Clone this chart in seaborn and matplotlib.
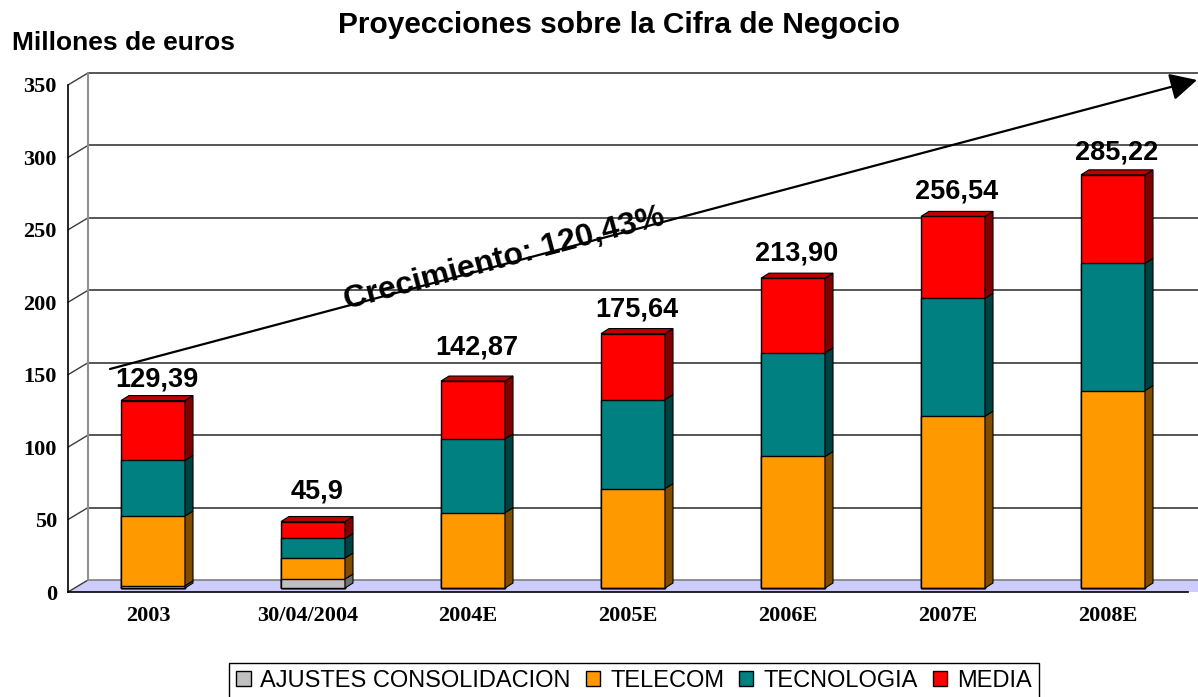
import numpy as np
import pandas as pd
import matplotlib
matplotlib.use("Agg")
import matplotlib.pyplot as plt
import seaborn as sns
from matplotlib.patches import Polygon, Patch
from matplotlib.transforms import ScaledTranslation

# ---------------- data ----------------
categories = ["2003", "30/04/2004", "2004E", "2005E", "2006E", "2007E", "2008E"]
ajustes = [1.5, 6.2, 0.0, 0.0, 0.0, 0.0, 0.0]
telecom = [48.2, 14.5, 52.0, 68.6, 90.8, 118.6, 136.3]
tecnologia = [38.4, 13.5, 51.0, 61.5, 71.5, 81.4, 87.8]
media = [41.29, 11.7, 39.87, 45.54, 51.6, 56.54, 61.12]
totals = [129.39, 45.9, 142.87, 175.64, 213.90, 256.54, 285.22]
total_labels = ["129,39", "45,9", "142,87", "175,64", "213,90", "256,54", "285,22"]
series_names = ["AJUSTES CONSOLIDACION", "TELECOM", "TECNOLOGIA", "MEDIA"]
y_ticks = [0, 50, 100, 150, 200, 250, 300, 350]
title_text = "Proyecciones sobre la Cifra de Negocio"
ylabel_text = "Millones de euros"
growth_text = "Crecimiento: 120,43%"

# ---------------- style ----------------
front_colors = ["#C0C0C0", "#FF9900", "#008080", "#FF0000"]
side_colors = ["#707070", "#7F4C00", "#004040", "#800000"]
top_colors = ["#A0A0A0", "#C07000", "#006060", "#C00000"]
label_gap_px = [9, 18, 22, 12, 13, 13, 10]   # gap between value label and bar top

sns.set_style("white")
plt.rcParams["font.family"] = ["Liberation Sans", "DejaVu Sans"]
plt.rcParams["text.color"] = "black"
plt.rcParams["axes.labelcolor"] = "black"
plt.rcParams["xtick.color"] = "black"
plt.rcParams["ytick.color"] = "black"

W, H, DPI = 1198, 697, 100
fig = plt.figure(figsize=(W / DPI, H / DPI), dpi=DPI)
ax = fig.add_axes([68 / W, 105 / H, 1120 / W, 507 / H])

series = [ajustes, telecom, tecnologia, media]
cum = np.cumsum(np.array(series), axis=0)  # shape (4, n)

bar_shift = ScaledTranslation(5 / DPI, 4 / DPI, fig.dpi_scale_trans)
bar_tr = ax.transData + bar_shift

# draw stacked bars with seaborn (cumulative overlay from the top)
patch_sets = {}
for k in range(3, -1, -1):
    n0 = len(ax.patches)
    sns.barplot(x=categories, y=cum[k], color=front_colors[k], saturation=1,
                width=0.4, edgecolor="black", linewidth=1.0, errorbar=None,
                ax=ax, zorder=2)
    patch_sets[k] = ax.patches[n0:]
    for p in patch_sets[k]:
        p.set_transform(bar_tr)
        p.set_clip_on(False)

ax.set_xlim(-0.5, len(categories) - 0.5)
ax.set_ylim(0, 350)
ax.set_xlabel("")
ax.set_ylabel("")

# pixel -> data conversions
px_x = ax.transData.transform((1, 0))[0] - ax.transData.transform((0, 0))[0]
px_y = ax.transData.transform((0, 1))[1] - ax.transData.transform((0, 0))[1]
ddx, ddy = 8 / px_x, 5 / px_y       # bar depth
wdx, wdy = 20 / px_x, 12 / px_y     # wall depth

# side and top faces of bars
for i, p in enumerate(patch_sets[3]):
    xl = p.get_x()
    xr = p.get_x() + p.get_width()
    for k in range(4):
        b = cum[k - 1][i] if k > 0 else 0.0
        t = cum[k][i]
        if t - b <= 0:
            continue
        side = Polygon([(xr, b), (xr + ddx, b + ddy), (xr + ddx, t + ddy), (xr, t)],
                       closed=True, facecolor=side_colors[k], edgecolor="black",
                       linewidth=0.8, transform=bar_tr, clip_on=False, zorder=2)
        ax.add_patch(side)
    T = cum[3][i]
    top = Polygon([(xl, T), (xl + ddx, T + ddy), (xr + ddx, T + ddy), (xr, T)],
                  closed=True, facecolor=top_colors[3], edgecolor="black",
                  linewidth=0.8, transform=bar_tr, clip_on=False, zorder=2)
    ax.add_patch(top)

# floor and back wall
x0, x1 = -0.5, len(categories) - 0.5
floor = Polygon([(x0, 0), (x1 + 0.5, 0), (x1 + 0.5 + wdx, wdy), (x0 + wdx, wdy)],
                closed=True, facecolor="#CCCCFF", edgecolor="none",
                transform=ax.transData, clip_on=False, zorder=0.3)
ax.add_patch(floor)
for v in y_ticks:
    ax.plot([x0 + wdx, x1 + 1.0], [v + wdy, v + wdy],
            color="#808080" if v == 0 else "#3a3a3a", lw=1.2, clip_on=False, zorder=0.5)
    ax.plot([x0, x0 + wdx], [v, v + wdy], color="#3a3a3a", lw=1.0,
            clip_on=False, zorder=0.5)
ax.plot([x0 + wdx, x0 + wdx], [wdy, 350 + wdy], color="#909090", lw=1.5,
        clip_on=False, zorder=0.6)

# axes / ticks
for s in ["top", "right"]:
    ax.spines[s].set_visible(False)
for s in ["left", "bottom"]:
    ax.spines[s].set_color("black")
    ax.spines[s].set_linewidth(1.2)
    ax.spines[s].set_zorder(3)
ax.set_yticks(y_ticks)
ax.set_yticklabels([str(v) for v in y_ticks])
ax.set_xticks(range(len(categories)))
ax.set_xticklabels(categories)
ax.set_xticks(np.arange(-0.5, len(categories), 1.0), minor=True)
ax.tick_params(axis="y", direction="out", length=6, width=1, color="black", pad=2)
ax.tick_params(axis="x", which="major", length=0, pad=10)
ax.tick_params(axis="x", which="minor", direction="out", length=6, width=1, color="black")
for lab in ax.get_yticklabels() + ax.get_xticklabels():
    lab.set_fontfamily("Liberation Serif")
    lab.set_fontweight("bold")
    lab.set_fontsize(16)
    lab.set_color("black")
ax.grid(False)
ax.set_facecolor("none")

# value labels
for i, p in enumerate(patch_sets[3]):
    xc = p.get_x() + p.get_width() / 2
    ax.annotate(total_labels[i], xy=(xc, totals[i]), xycoords="data",
                xytext=(9, 4 + 5 + label_gap_px[i]), textcoords="offset pixels",
                ha="center", va="baseline", fontsize=19.5, fontweight="bold",
                color="black", annotation_clip=False, zorder=5)

# growth arrow and label
fig.patches.append(matplotlib.patches.FancyArrowPatch(
    (110 / W, 1 - 369 / H), (1197 / W, 1 - 80 / H), transform=fig.transFigure,
    arrowstyle="-|>,head_length=0.55,head_width=0.28", mutation_scale=30,
    color="black", lw=1.6, shrinkA=0, shrinkB=0, zorder=6))
fig.text(504 / W, 1 - 259 / H, growth_text, rotation=14.9, rotation_mode="anchor",
         ha="center", va="center", fontsize=23, fontweight="bold", color="black",
         zorder=7)

# titles
fig.text(619 / W, 1 - 33 / H, title_text, ha="center", va="baseline",
         fontsize=21.5, fontweight="bold", color="black")
fig.text(12 / W, 1 - 50 / H, ylabel_text, ha="left", va="baseline",
         fontsize=19, fontweight="bold", color="black")

# legend
handles = [Patch(facecolor=front_colors[k], edgecolor="black", linewidth=1.0)
           for k in range(4)]
leg = fig.legend(handles, series_names, loc="upper center",
                 bbox_to_anchor=(634 / W, 1 - 663 / H), ncol=4, frameon=True,
                 fancybox=False, edgecolor="black", framealpha=1, fontsize=17,
                 handlelength=0.6, handleheight=0.6, handletextpad=0.42,
                 columnspacing=0.64, borderpad=0.3, borderaxespad=0)
leg.get_frame().set_linewidth(1.0)
for t in leg.get_texts():
    t.set_color("black")

fig.savefig("out.png", dpi=DPI)
